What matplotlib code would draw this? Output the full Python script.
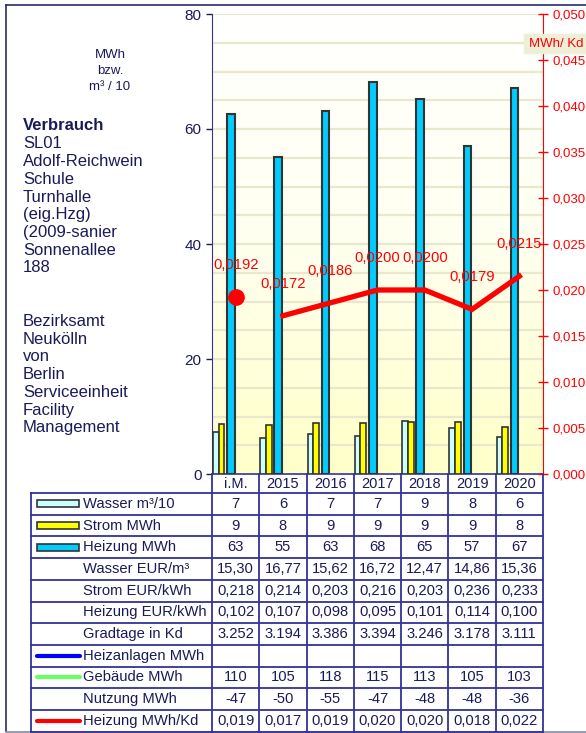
import numpy as np
import matplotlib
matplotlib.use("Agg")
import matplotlib.pyplot as plt
from matplotlib.colors import LinearSegmentedColormap
from matplotlib.patches import Rectangle
from matplotlib.ticker import FuncFormatter

plt.rcParams['font.family'] = ['Liberation Sans', 'DejaVu Sans']

# Data
cats = ['i.M.', '2015', '2016', '2017', '2018', '2019', '2020']
wasser_bar = [7.25, 6.2, 6.9, 6.6, 9.2, 8.0, 6.4]
strom_bar = [8.75, 8.5, 8.8, 8.9, 9.05, 9.0, 8.2]
heizung_bar = [62.6, 55.1, 63.1, 68.2, 65.2, 57.0, 67.1]
heiz_kd = [0.0192, 0.0172, 0.0186, 0.0200, 0.0200, 0.0179, 0.0215]

wasser_tbl = [7, 6, 7, 7, 9, 8, 6]
strom_tbl = [9, 8, 9, 9, 9, 9, 8]
heizung_tbl = [63, 55, 63, 68, 65, 57, 67]
wasser_eur = [15.30, 16.77, 15.62, 16.72, 12.47, 14.86, 15.36]
strom_eur = [0.218, 0.214, 0.203, 0.216, 0.203, 0.236, 0.233]
heiz_eur = [0.102, 0.107, 0.098, 0.095, 0.101, 0.114, 0.100]
gradtage = [3252, 3194, 3386, 3394, 3246, 3178, 3111]
gebaeude = [110, 105, 118, 115, 113, 105, 103]
nutzung = [-47, -50, -55, -47, -48, -48, -36]

info_lines = ['Verbrauch', 'SL01', 'Adolf-Reichwein', 'Schule', 'Turnhalle', '(eig.Hzg)',
              '(2009-sanier', 'Sonnenallee', '188', '', '', 'Bezirksamt', 'Neukölln', 'von',
              'Berlin', 'Serviceeinheit', 'Facility', 'Management']

NAVY = '#1a1a5a'
GRID_BLUE = '#333399'
W, H = 586, 733


def de(v, nd):
    return f"{round(v + 1e-9, nd):.{nd}f}".replace('.', ',')


fig = plt.figure(figsize=(W / 100, H / 100), dpi=100)

# Main plot area (pixels: x 212-543, y 14-474)
L, R, T, B = 212, 543, 14, 474
ax = fig.add_axes([L / W, 1 - B / H, (R - L) / W, (B - T) / H])
x = np.arange(len(cats))
ax.set_xlim(-0.5, len(cats) - 0.5)
ax.set_ylim(0, 80)

grad = LinearSegmentedColormap.from_list('bg', ['#FFFFC8', '#FFFFF0', '#FFFFFF'])
ax.imshow(np.linspace(0, 1, 256).reshape(-1, 1), cmap=grad, origin='lower',
          extent=[-0.5, len(cats) - 0.5, 0, 80], aspect='auto', zorder=0)
for gy in range(5, 81, 5):
    ax.axhline(gy, color='#EAE8CC', lw=1.6, zorder=1)

ax.bar(x - 0.42, wasser_bar, width=0.115, color='#CCFFFF', edgecolor='#333333', lw=1.2, zorder=3)
ax.bar(x - 0.30, strom_bar, width=0.125, color='#FFFF00', edgecolor='#333333', lw=1.2, zorder=3)
ax.bar(x - 0.10, heizung_bar, width=0.16, color='#00CCFF', edgecolor='#333333', lw=1.5, zorder=3)

ax.set_xticks([])
ax.set_yticks([0, 20, 40, 60, 80])
ax.tick_params(axis='y', colors=NAVY, labelsize=11, length=4, width=1, direction='out')
for s in ['top', 'right']:
    ax.spines[s].set_visible(False)
ax.spines['left'].set_color(GRID_BLUE)
ax.spines['bottom'].set_color(GRID_BLUE)
ax.spines['bottom'].set_linewidth(1.2)

ax2 = ax.twinx()
ax2.set_ylim(0, 0.05)
ax2.set_yticks(np.arange(0, 0.0501, 0.005))
ax2.yaxis.set_major_formatter(FuncFormatter(lambda v, p: de(v, 3)))
ax2.tick_params(axis='y', colors='#FF0000', labelsize=9.5, length=7, width=1, direction='inout',
                pad=3)
for s in ['top', 'left', 'bottom']:
    ax2.spines[s].set_visible(False)
ax2.spines['right'].set_color('#FF0000')

ax2.plot(x[1:], heiz_kd[1:], color='#FF0000', lw=3.8, zorder=5, solid_joinstyle='miter')
ax2.plot(x[:1], heiz_kd[:1], 'o', color='#FF0000', ms=11, zorder=5)
for xi, v in zip(x, heiz_kd):
    ax2.annotate(de(v, 4), (xi, v), xytext=(0, 23), textcoords='offset points',
                 ha='center', va='center', color='#FF0000', fontsize=10.6, zorder=6)

# Overlay in pixel coordinates for texts and table
ov = fig.add_axes([0, 0, 1, 1], zorder=10)
ov.set_xlim(0, W)
ov.set_ylim(H, 0)
ov.axis('off')
ov.patch.set_alpha(0)

ov.plot([6, W], [5, 5], color='#2b2b6b', lw=1.2)
ov.plot([6, 6], [5, 731], color='#2b2b6b', lw=1.2)
ov.plot([6, W], [731.5, 731.5], color='#8888aa', lw=1.2)

ov.add_patch(Rectangle((524, 34), 62, 19, color='#EFEED6', zorder=2))
ov.text(556, 44, 'MWh/ Kd', color='#FF0000', fontsize=9.5, ha='center', va='center', zorder=3)

for i, t in enumerate(['MWh', 'bzw.', 'm³ / 10']):
    ov.text(110, 55 + i * 16, t, color=NAVY, fontsize=9.5, ha='center', va='center')
for i, t in enumerate(info_lines):
    ov.text(23, 126 + i * 17.75, t, color=NAVY, fontsize=12, ha='left', va='center',
            fontweight='bold' if i == 0 else 'normal')

# Table
cw = (R - L) / len(cats)
col_x = [L + cw * k for k in range(len(cats) + 1)]
hdr_top, hdr_bot = B, 493
rh = 21.7
rows = [
    ('Wasser m³/10', ('rect', '#CCFFFF'), [str(v) for v in wasser_tbl]),
    ('Strom MWh', ('rect', '#FFFF00'), [str(v) for v in strom_tbl]),
    ('Heizung MWh', ('rect', '#00CCFF'), [str(v) for v in heizung_tbl]),
    ('Wasser EUR/m³', None, [de(v, 2) for v in wasser_eur]),
    ('Strom EUR/kWh', None, [de(v, 3) for v in strom_eur]),
    ('Heizung EUR/kWh', None, [de(v, 3) for v in heiz_eur]),
    ('Gradtage in Kd', None, [f"{v:,}".replace(',', '.') for v in gradtage]),
    ('Heizanlagen MWh', ('line', '#0000FF'), [''] * len(cats)),
    ('Gebäude MWh', ('line', '#66FF66'), [str(v) for v in gebaeude]),
    ('Nutzung MWh', None, [str(v) for v in nutzung]),
    ('Heizung MWh/Kd', ('line', '#FF0000'), [de(v, 3) for v in heiz_kd]),
]
tb_left = 31
tb_bot = hdr_bot + rh * len(rows)
lc = dict(color=GRID_BLUE, lw=1.3, zorder=4)
for cx in col_x:
    ov.plot([cx, cx], [hdr_top, tb_bot], **lc)
ov.plot([tb_left, tb_left], [hdr_bot, tb_bot], **lc)
for k in range(len(rows) + 1):
    yy = hdr_bot + k * rh
    ov.plot([tb_left, R], [yy, yy], **lc)
for j, c in enumerate(cats):
    ov.text((col_x[j] + col_x[j + 1]) / 2, (hdr_top + hdr_bot) / 2 + 1, c, color=NAVY,
            fontsize=10.5, ha='center', va='center')
for k, (lab, sw, vals) in enumerate(rows):
    yc = hdr_bot + (k + 0.5) * rh
    ov.text(83, yc, lab, color=NAVY, fontsize=10.6, ha='left', va='center')
    if sw is not None:
        kind, col = sw
        if kind == 'rect':
            ov.add_patch(Rectangle((37, yc - 3.5), 42, 7, facecolor=col, edgecolor='#333333',
                                   lw=1.2, zorder=3))
        else:
            ov.plot([37, 80], [yc, yc], color=col, lw=3, solid_capstyle='round')
    for j, v in enumerate(vals):
        ov.text((col_x[j] + col_x[j + 1]) / 2, yc, v, color=NAVY, fontsize=10.6,
                ha='center', va='center')

fig.savefig('out.png', dpi=100)
